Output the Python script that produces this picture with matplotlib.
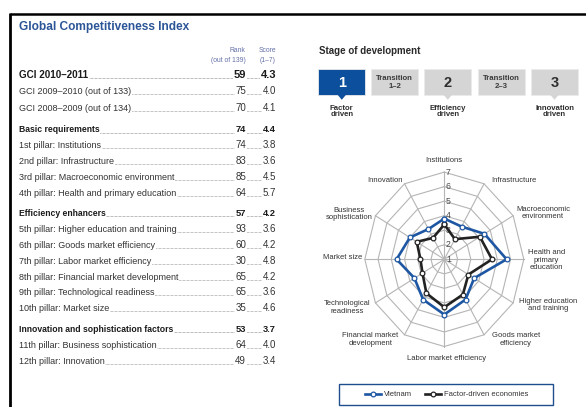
import numpy as np
import matplotlib
matplotlib.use("Agg")
import matplotlib.pyplot as plt
from matplotlib.patches import Rectangle, Polygon
import matplotlib.transforms as mtransforms

plt.rcParams['font.family'] = ['Liberation Sans', 'DejaVu Sans']

# ---------------- data ----------------
row_labels = ["GCI 2010–2011", "GCI 2009–2010 (out of 133)", "GCI 2008–2009 (out of 134)",
              "Basic requirements", "1st pillar: Institutions", "2nd pillar: Infrastructure",
              "3rd pillar: Macroeconomic environment", "4th pillar: Health and primary education",
              "Efficiency enhancers", "5th pillar: Higher education and training",
              "6th pillar: Goods market efficiency", "7th pillar: Labor market efficiency",
              "8th pillar: Financial market development", "9th pillar: Technological readiness",
              "10th pillar: Market size", "Innovation and sophistication factors",
              "11th pillar: Business sophistication", "12th pillar: Innovation"]
row_ranks = [59, 75, 70, 74, 74, 83, 85, 64, 57, 93, 60, 30, 65, 65, 35, 53, 64, 49]
row_scores = ["4.3", "4.0", "4.1", "4.4", "3.8", "3.6", "4.5", "5.7", "4.2", "3.6", "4.2",
              "4.8", "4.2", "3.6", "4.6", "3.7", "4.0", "3.4"]
row_bold = [True, False, False, True, False, False, False, False, True, False, False,
            False, False, False, False, True, False, False]

stages = ["1", "Transition\n1–2", "2", "Transition\n2–3", "3"]
stage_names = ["Factor\ndriven", "Efficiency\ndriven", "Innovation\ndriven"]

pillars = ["Institutions", "Infrastructure", "Macroeconomic\nenvironment",
           "Health and\nprimary\neducation", "Higher education\nand training",
           "Goods market\nefficiency", "Labor market efficiency",
           "Financial market\ndevelopment", "Technological\nreadiness", "Market size",
           "Business\nsophistication", "Innovation"]
vietnam = [3.8, 3.6, 4.5, 5.7, 3.6, 4.2, 4.8, 4.2, 3.6, 4.6, 4.0, 3.4]
factor_driven = [3.4, 2.6, 4.1, 4.6, 3.1, 3.8, 4.3, 3.7, 2.9, 2.8, 3.4, 2.7]
radial_ticks = [1, 2, 3, 4, 5, 6, 7]

# ---------------- figure ----------------
W, H = 586, 407
fig = plt.figure(figsize=(W / 100, H / 100), dpi=100)
bg = fig.add_axes([0, 0, 1, 1])
bg.set_xlim(0, W)
bg.set_ylim(H, 0)
bg.axis('off')

# frame
bg.plot([9.5, W], [13.5, 13.5], color='black', lw=1.8, solid_capstyle='butt')
bg.plot([9.5, 9.5], [12.8, H], color='black', lw=2.0, solid_capstyle='butt')

TITLE_BLUE = '#2b5597'
bg.text(19, 27, "Global Competitiveness Index", fontsize=8.6, fontweight='bold',
        color=TITLE_BLUE, ha='left', va='center')

HDR = '#6470a8'
bg.text(245.5, 50.5, "Rank", fontsize=4.9, color=HDR, ha='right', va='center')
bg.text(245.5, 60.5, "(out of 139)", fontsize=4.9, color=HDR, ha='right', va='center')
bg.text(276, 50.5, "Score", fontsize=4.9, color=HDR, ha='right', va='center')
bg.text(276, 60.5, "(1–7)", fontsize=4.9, color=HDR, ha='right', va='center')

row_y = [75, 91, 108, 129.5, 145, 161, 177, 192.5, 213, 229, 245, 261, 276.5, 292, 308,
         329, 345, 361]
x_lab, x_rank, x_score = 19, 246, 276
for i, (lab, rk, sc, b) in enumerate(zip(row_labels, row_ranks, row_scores, row_bold)):
    y = row_y[i] + 3
    if i == 0:
        fs, fw, col = 7.1, 'bold', '#1a1a1a'
    elif b:
        fs, fw, col = 6.2, 'bold', '#1a1a1a'
    else:
        fs, fw, col = 6.5, 'normal', '#333333'
    nfs = fs + (0.9 if i == 0 else 0.5)
    bg.plot([x_lab + 5, x_score - 5], [y, y], color=col, lw=0.6,
            linestyle=(0, (0.4, 1.2)), zorder=1)
    bb = dict(facecolor='white', edgecolor='none', pad=0.5)
    bg.text(x_lab, y, lab, fontsize=fs, fontweight=fw, color=col, ha='left',
            va='baseline', bbox=bb, zorder=3)
    bg.text(x_rank, y, str(rk), fontsize=nfs, fontweight=fw, color=col, ha='right',
            va='baseline', bbox=bb, zorder=3)
    bg.text(x_score, y, sc, fontsize=nfs, fontweight=fw, color=col, ha='right',
            va='baseline', bbox=dict(facecolor='white', edgecolor='none', pad=0.3), zorder=3)

# ---------------- stage of development ----------------
bg.text(319, 51, "Stage of development", fontsize=7, fontweight='bold', color='#2a2a2a',
        ha='left', va='center')
box_x = [318.3, 371.3, 424.3, 477.7, 531]
box_w, box_y, box_h = 47, 69.3, 26
STAGE_BLUE = '#0c4f9c'
GREY = '#d5d5d5'
for j, (bx, s) in enumerate(zip(box_x, stages)):
    fc = STAGE_BLUE if j == 0 else GREY
    bg.add_patch(Rectangle((bx, box_y), box_w, box_h, facecolor=fc, edgecolor='#ebebeb',
                           lw=0.6, zorder=2))
    cx = bx + box_w / 2
    if j % 2 == 0:
        bg.add_patch(Polygon([[cx - 4, box_y + box_h - 0.3], [cx + 4, box_y + box_h - 0.3],
                              [cx, box_y + box_h + 4.5]], closed=True, facecolor=fc,
                             edgecolor='none', zorder=2))
        bg.text(cx, box_y + box_h / 2 + 0.5, s, fontsize=10.5, fontweight='bold',
                color='white' if j == 0 else '#2e2e2e', ha='center', va='center', zorder=3)
        bg.text(cx, 111.5, stage_names[j // 2], fontsize=5.6, fontweight='bold',
                color='#2e2e2e', ha='center', va='center', linespacing=0.9, zorder=3)
    else:
        bg.text(cx, box_y + box_h / 2, s, fontsize=5.6, fontweight='bold', color='#3a3a3a',
                ha='center', va='center', linespacing=1.25, zorder=3)

# ---------------- radar ----------------
cx_px, cy_px = 444.3, 259.3
rx, ry = 79.5, 87.2
ax = fig.add_axes([(cx_px - rx) / W, 1 - (cy_px + ry) / H, 2 * rx / W, 2 * ry / H],
                  projection='polar')
ax.set_theta_zero_location('N')
ax.set_theta_direction(-1)
ax.set_ylim(1, 7)
ax.set_aspect('auto')
ax.grid(False)
ax.set_xticks([])
ax.set_yticks([])
ax.spines['polar'].set_visible(False)
ax.patch.set_alpha(0)

n = len(pillars)
theta = np.linspace(0, 2 * np.pi, n, endpoint=False)
theta_c = np.append(theta, theta[0])
GRID = '#b5b5b5'
for k in radial_ticks[1:]:
    ax.plot(theta_c, [k] * (n + 1), color=GRID, lw=0.8, clip_on=False, zorder=1)
for t in theta:
    ax.plot([t, t], [radial_ticks[0], radial_ticks[-1]], color=GRID, lw=0.8,
            clip_on=False, zorder=1)
off = mtransforms.offset_copy(ax.transData, fig=fig, x=1.2, y=0, units='points')
for k in radial_ticks:
    ax.text(0, k, str(k), transform=off, fontsize=6.3, color='#4a4a4a', ha='left',
            va='center', zorder=2)

VBLUE = '#1d56a2'
fd_line, = ax.plot(theta_c, factor_driven + factor_driven[:1], color='#222222', lw=1.9,
                   marker='o', ms=3.4, mfc='white', mec='#222222', mew=0.9, zorder=4,
                   clip_on=False, label='Factor-driven economies')
vn_line, = ax.plot(theta_c, vietnam + vietnam[:1], color=VBLUE, lw=1.9, marker='o',
                   ms=3.4, mfc='white', mec=VBLUE, mew=0.9, zorder=5, clip_on=False,
                   label='Vietnam')

label_pos = [(444.3, 160), (513.8, 180), (543, 213), (546.7, 260), (548, 305),
             (516, 339.7), (446.3, 358.3), (370.3, 339.7), (347.5, 307.5), (343, 257.7),
             (348.8, 214), (385, 180)]
for lab, (px, py) in zip(pillars, label_pos):
    bg.text(px, py, lab, fontsize=5.5, color='#333333', ha='center', va='center',
            linespacing=1.1)

# legend
bg.add_patch(Rectangle((339.3, 384), 214, 21, fill=False, edgecolor='#1f4e8c', lw=1.0))
fig.legend(handles=[vn_line, fd_line], labels=['Vietnam', 'Factor-driven economies'],
           loc='center', bbox_to_anchor=(446.7 / W, 1 - 394.5 / H),
           bbox_transform=fig.transFigure, ncol=2, frameon=False, fontsize=5.5,
           handlelength=2.2, handletextpad=0.4, columnspacing=1.6, numpoints=1,
           labelcolor='#333333')

fig.savefig('out.png', dpi=100)
